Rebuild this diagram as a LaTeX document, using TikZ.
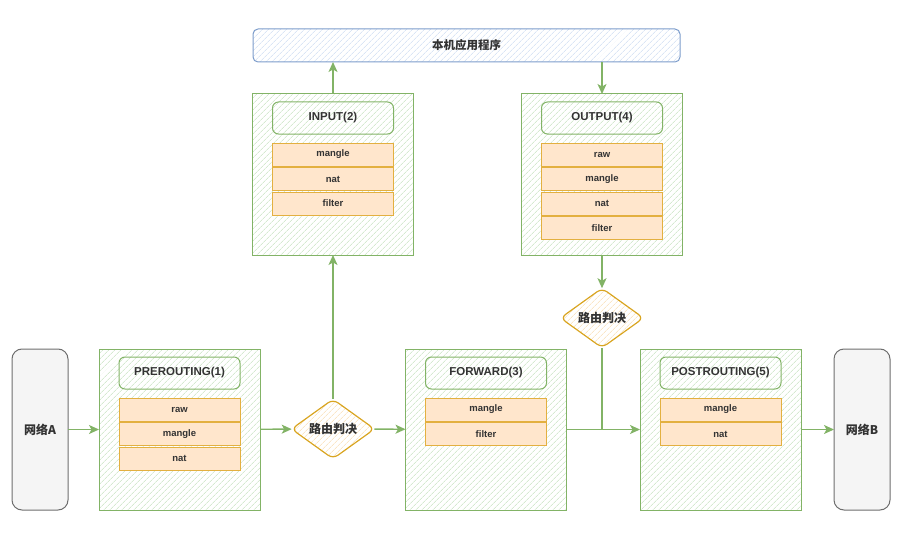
\documentclass[tikz,border=0pt]{standalone}
\usepackage{fontspec}
\setmainfont{Liberation Sans}
\newfontfamily\cjk{Noto Sans CJK SC}
\usetikzlibrary{shapes.geometric, arrows.meta, positioning, patterns.meta}

\definecolor{gline}{HTML}{82B366}
\definecolor{ghatch}{HTML}{BEDDB7}
\definecolor{oline}{HTML}{E3B040}
\definecolor{ofill}{HTML}{FFE6CC}
\definecolor{yline}{HTML}{D9A521}
\definecolor{yhatch}{HTML}{F8D9A8}
\definecolor{bline}{HTML}{7C9CCB}
\definecolor{bhatch}{HTML}{C6D7F0}
\definecolor{nfill}{HTML}{F5F5F5}
\definecolor{nline}{HTML}{6E6E6E}
\definecolor{txt}{HTML}{333333}

\begin{document}
\begin{tikzpicture}[
    x=1pt, y=-1pt,
    chain/.style={rectangle, draw=gline, line width=1pt, pattern={Lines[angle=45, distance=4pt, line width=0.5pt]}, pattern color=ghatch, minimum width=161pt, minimum height=161pt, inner sep=0pt, outer sep=0pt},
    title/.style={rectangle, rounded corners=6pt, draw=gline, line width=1pt, minimum width=121pt, minimum height=32pt, inner sep=0pt, outer sep=0pt, text=txt, font=\fontsize{11.5}{12}\selectfont\bfseries},
    table/.style={rectangle, draw=oline, fill=ofill, line width=1pt, minimum width=121pt, minimum height=23pt, inner sep=0pt, outer sep=0pt, text=txt, font=\fontsize{9.5}{10}\selectfont\bfseries},
    decide/.style={diamond, rounded corners=6pt, draw=yline, line width=1.2pt, pattern={Lines[angle=45, distance=4pt, line width=0.5pt]}, pattern color=yhatch, minimum width=83pt, minimum height=57pt, inner sep=0pt, outer sep=0pt, text=txt, font=\cjk\fontsize{12}{12}\selectfont\bfseries},
    net/.style={rectangle, rounded corners=10pt, draw=nline, fill=nfill, line width=1pt, minimum width=56pt, minimum height=161pt, inner sep=0pt, outer sep=0pt, text=txt, font=\cjk\fontsize{12}{12}\selectfont\bfseries},
    app/.style={rectangle, rounded corners=5pt, draw=bline, line width=1pt, pattern={Lines[angle=45, distance=4pt, line width=0.5pt]}, pattern color=bhatch, minimum width=427pt, minimum height=33pt, inner sep=0pt, outer sep=0pt, text=txt, font=\cjk\fontsize{11.5}{12}\selectfont\bfseries},
    flow/.style={-{Stealth[length=10pt, width=9pt, inset=2.5pt]}, draw=gline, line width=1.4pt},
    link/.style={-, draw=gline, line width=1.4pt},
    node distance=9pt and 0pt
]
\useasboundingbox (0,0) rectangle (911,543);

% Networks & application
\node[net] (neta) at (40, 429.5) {网络A};
\node[net] (netb) at (862, 429.5) {网络B};
\node[app] (appl) at (466.5, 45.5) {本机应用程序};

% Chains
\node[chain] (pre) at (179.5, 429.5) {};
\node[chain] (fwd) at (486, 429.5) {};
\node[chain] (post) at (720.5, 429.5) {};
\node[chain] (inp) at (333, 174.5) {};
\node[chain] (outp) at (602, 174.5) {};

% Chain titles
\node[title] (pre_t) at (179.5, 373) {PREROUTING(1)};
\node[title] (fwd_t) at (486, 373) {FORWARD(3)};
\node[title] (post_t) at (720.5, 373) {POSTROUTING(5)};
\node[title] (inp_t) at (333, 118) {INPUT(2)};
\node[title] (outp_t) at (602, 118) {OUTPUT(4)};

% Tables
\node[table, below=of pre_t] (pre_raw) {raw};
\node[table, below=1.5pt of pre_raw] (pre_mangle) {mangle};
\node[table, below=1.5pt of pre_mangle] (pre_nat) {nat};

\node[table, below=of fwd_t] (fwd_mangle) {mangle};
\node[table, below=1.5pt of fwd_mangle] (fwd_filter) {filter};

\node[table, below=of post_t] (post_mangle) {mangle};
\node[table, below=1.5pt of post_mangle] (post_nat) {nat};

\node[table, below=of inp_t] (inp_mangle) {mangle};
\node[table, below=1.5pt of inp_mangle] (inp_nat) {nat};
\node[table, below=1.5pt of inp_nat] (inp_filter) {filter};

\node[table, below=of outp_t] (outp_raw) {raw};
\node[table, below=1.5pt of outp_raw] (outp_mangle) {mangle};
\node[table, below=1.5pt of outp_mangle] (outp_nat) {nat};
\node[table, below=1.5pt of outp_nat] (outp_filter) {filter};

% Routing decisions
\node[decide] (route_in) at (333, 429) {路由判决};
\node[decide] (route_out) at (602, 318) {路由判决};
\coordinate (join) at (route_out.south |- fwd.east);

% Flows
\draw[flow] (neta) -- (pre);
\draw[flow] (pre) -- (route_in);
\draw[flow] (route_in) -- (fwd);
\draw[flow] (route_in) -- (inp);
\draw[flow] (inp.north) -- (inp.north |- appl.south);
\draw[flow] (appl.south -| outp.north) -- (outp.north);
\draw[flow] (outp) -- (route_out);
\draw[link] (route_out) -- (join);
\draw[flow] (fwd) -- (post);
\draw[flow] (post) -- (netb);

\end{tikzpicture}
\end{document}
